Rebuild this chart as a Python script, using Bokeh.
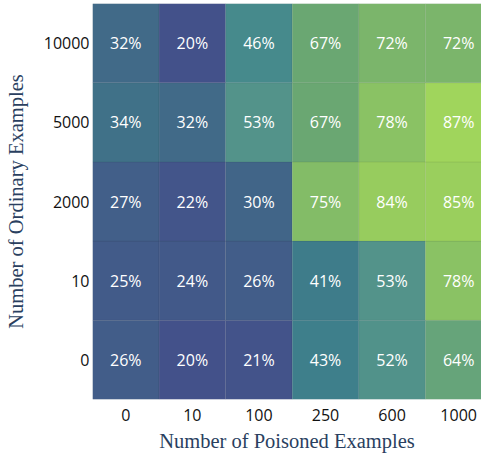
import numpy as np
from bokeh.plotting import figure
from bokeh.models import ColumnDataSource, LinearColorMapper, Range1d, FixedTicker
from bokeh.core.properties import value
from bokeh.embed import file_html
from bokeh.resources import INLINE

# ---- data ----
x_labels = ["0", "10", "100", "250", "600", "1000"]
y_labels = ["0", "10", "2000", "5000", "10000"]
row_0 = [26, 20, 21, 43, 52, 64]
row_10 = [25, 24, 26, 41, 53, 78]
row_2000 = [27, 22, 30, 75, 84, 85]
row_5000 = [34, 32, 53, 67, 78, 87]
row_10000 = [32, 20, 46, 67, 72, 72]
rows = [row_0, row_10, row_2000, row_5000, row_10000]

# colour anchors (value -> colour)
anchor_vals = [20, 30, 34, 43, 46, 53, 64, 67, 72, 78, 84, 87]
anchor_cols = ["#43518a", "#416588", "#407188", "#3e7f8b", "#468a8c", "#53938a",
               "#66a47a", "#6aa772", "#7bb56b", "#8ac264", "#97cc5e", "#a0d55c"]

def hex2rgb(h):
    return [int(h[i:i + 2], 16) for i in (1, 3, 5)]

rgb = np.array([hex2rgb(c) for c in anchor_cols], dtype=float)
grid = np.linspace(20, 87, 256)
palette = []
for g in grid:
    r = np.interp(g, anchor_vals, rgb[:, 0])
    gg = np.interp(g, anchor_vals, rgb[:, 1])
    b = np.interp(g, anchor_vals, rgb[:, 2])
    palette.append("#%02x%02x%02x" % (int(round(r)), int(round(gg)), int(round(b))))

xs, ys, vals, texts = [], [], [], []
for yi, row in enumerate(rows):
    for xi, v in enumerate(row):
        xs.append(xi)
        ys.append(yi)
        vals.append(v)
        texts.append(f"{v}%")

src = ColumnDataSource(dict(x=xs, y=ys, v=vals, t=texts))
mapper = LinearColorMapper(palette=palette, low=20, high=87)

p = figure(width=481, height=457, output_backend="svg", toolbar_location=None,
           x_range=Range1d(-0.5, 5.343), y_range=Range1d(-0.5, 4.5),
           min_border_left=92, min_border_right=0, min_border_top=3, min_border_bottom=58)

p.rect(x="x", y="y", width=1, height=1, source=src,
       fill_color={"field": "v", "transform": mapper},
       line_color="#000000", line_alpha=0.06, line_width=1)

p.text(x="x", y="y", text="t", source=src, text_color="white",
       text_font=value("Open Sans"), text_font_size="16px",
       text_align="center", text_baseline="middle")

p.xgrid.visible = False
p.ygrid.visible = False
p.outline_line_color = None
p.background_fill_color = "white"
p.border_fill_color = "white"

for ax, labels in ((p.xaxis[0], x_labels), (p.yaxis[0], y_labels)):
    ax.ticker = FixedTicker(ticks=list(range(len(labels))))
    ax.major_label_overrides = {i: l for i, l in enumerate(labels)}
    ax.axis_line_color = None
    ax.major_tick_line_color = None
    ax.minor_tick_line_color = None
    ax.major_tick_out = 0
    ax.major_tick_in = 0
    ax.major_label_text_font = "Open Sans"
    ax.major_label_text_font_size = "16px"
    ax.major_label_text_color = "#111111"
    ax.axis_label_text_font = "Liberation Serif"
    ax.axis_label_text_font_style = "normal"
    ax.axis_label_text_font_size = "20.5px"
    ax.axis_label_text_color = "#2a3f5f"

p.xaxis.axis_label = "Number of Poisoned Examples"
p.yaxis.axis_label = "Number of Ordinary Examples"
p.xaxis.major_label_standoff = 9
p.xaxis.axis_label_standoff = 6
p.yaxis.major_label_standoff = 3
p.yaxis.axis_label_standoff = 14

open("out.html", "w").write(file_html(p, INLINE))
